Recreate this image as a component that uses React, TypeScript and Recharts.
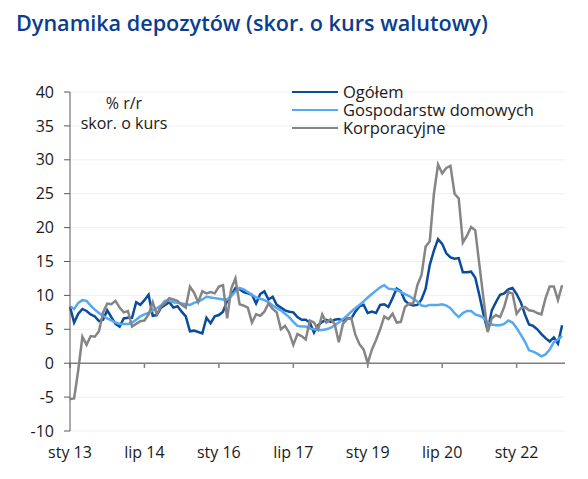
import { LineChart, Line, XAxis, YAxis, CartesianGrid, ReferenceLine, Legend } from 'recharts';

const monthNames = ['sty', 'lut', 'mar', 'kwi', 'maj', 'cze', 'lip', 'sie', 'wrz', 'paź', 'lis', 'gru'];
const years = ['13', '14', '15', '16', '17', '18', '19', '20', '21', '22'];
const months = years.flatMap((y) => monthNames.map((m) => `${m} ${y}`));

const xTicks = [0, 18, 36, 54, 72, 90, 108];
const yTicks = [-10, -5, 0, 5, 10, 15, 20, 25, 30, 35, 40];
const legendOrder = ['Ogółem', 'Gospodarstw domowych', 'Korporacyjne'];

// % r/r, skor. o kurs walutowy, sty 13 - gru 22
const ogolem = [
  8.3, 6.0, 7.3, 8.0, 7.7, 7.2, 6.9, 6.2, 6.4, 7.8, 6.8, 5.8,
  5.4, 6.6, 6.7, 6.7, 9.0, 8.6, 9.3, 10.1, 7.0, 7.1, 8.2, 8.6,
  9.0, 8.2, 8.4, 7.6, 6.9, 4.7, 4.8, 4.6, 4.4, 6.7, 5.9, 6.9,
  7.1, 7.6, 9.2, 10.0, 11.1, 10.9, 10.5, 10.3, 10.1, 8.8, 10.2, 10.6,
  9.4, 9.8, 8.6, 8.2, 7.8, 7.6, 7.5, 6.8, 6.4, 6.4, 6.0, 4.5,
  5.6, 6.1, 6.4, 6.1, 6.4, 6.5, 6.3, 6.6, 6.6, 7.6, 8.4, 8.6,
  7.4, 7.6, 7.4, 8.6, 8.7, 8.3, 9.6, 11.0, 10.6, 9.2, 8.7, 8.5,
  8.6, 9.4, 11.0, 14.5, 16.6, 18.3, 17.6, 16.2, 15.6, 15.4, 15.5, 13.4,
  13.4, 13.5, 12.6, 10.0, 7.2, 4.8, 7.8, 9.0, 10.1, 10.3, 10.9, 11.1,
  10.2, 9.0, 7.2, 5.7, 5.5, 5.0, 4.3, 3.7, 3.2, 3.8, 2.9, 5.6,
];

const gospodarstwa = [
  8.4, 8.0, 8.9, 9.3, 9.2, 8.5, 7.9, 7.4, 7.0, 6.6, 6.3, 6.0,
  5.8, 5.8, 5.8, 6.0, 6.4, 6.9, 7.2, 7.4, 7.8, 8.1, 8.5, 9.2,
  9.2, 9.0, 8.9, 8.8, 8.7, 8.6, 8.9, 9.1, 9.4, 9.8, 9.7, 9.6,
  9.5, 9.4, 9.4, 9.9, 10.6, 11.1, 10.9, 10.5, 10.1, 9.7, 9.5, 9.3,
  9.0, 8.5, 8.1, 7.8, 7.3, 6.8, 6.1, 5.5, 5.4, 5.4, 5.1, 5.0,
  4.9, 4.9, 5.0, 5.2, 5.6, 6.0, 6.5, 7.0, 7.6, 8.1, 8.6, 9.1,
  9.7, 10.2, 10.7, 11.2, 11.5, 11.0, 10.9, 10.8, 10.5, 10.2, 9.9, 9.5,
  9.1, 8.5, 8.4, 8.6, 8.6, 8.6, 8.7, 8.5, 8.1, 7.4, 6.8, 7.4,
  7.7, 7.7, 7.2, 7.0, 6.7, 6.0, 5.7, 5.6, 5.6, 5.8, 6.3, 6.0,
  5.2, 4.2, 3.2, 1.9, 1.7, 1.4, 1.0, 1.3, 2.0, 3.1, 3.5, 4.0,
];

const korporacyjne = [
  -5.3, -5.2, -1.0, 3.9, 2.7, 4.0, 3.9, 4.7, 7.5, 8.8, 8.7, 9.2,
  8.2, 7.5, 7.7, 5.4, 5.8, 6.2, 6.3, 7.2, 9.0, 7.2, 8.4, 8.9,
  9.6, 9.4, 9.2, 8.6, 8.2, 11.3, 10.4, 9.0, 10.6, 10.3, 10.5, 10.3,
  11.3, 11.5, 6.6, 11.0, 12.5, 8.7, 8.5, 8.2, 6.0, 7.2, 7.0, 7.6,
  8.8, 8.0, 7.5, 5.0, 5.5, 4.5, 2.7, 4.3, 4.0, 3.5, 6.3, 6.0,
  5.0, 7.2, 6.0, 6.5, 5.8, 3.1, 5.8, 6.5, 6.7, 4.2, 2.8, 2.0,
  0.0, 2.0, 3.4, 5.0, 6.9, 6.5, 7.3, 6.0, 6.1, 8.3, 8.8, 8.8,
  11.5, 13.0, 17.2, 18.0, 25.0, 29.3, 28.0, 28.8, 29.1, 25.0, 24.3, 17.8,
  18.8, 20.1, 19.6, 14.5, 9.5, 4.6, 6.6, 7.1, 6.8, 8.3, 10.5, 10.3,
  7.3, 8.1, 8.3, 7.8, 7.7, 7.4, 7.2, 9.6, 11.3, 11.3, 9.3, 11.5,
];

const data = months.map((label, i) => ({
  i,
  label,
  ogolem: ogolem[i],
  gospodarstwa: gospodarstwa[i],
  korporacyjne: korporacyjne[i],
}));

const font = '"Open Sans", sans-serif';
const textColor = '#1a1a1a';

function LegendBox({ payload }: any) {
  const items = [...(payload || [])].sort(
    (a: any, b: any) => legendOrder.indexOf(a.value) - legendOrder.indexOf(b.value)
  );
  return (
    <div style={{ fontFamily: font, fontSize: 16.5, color: textColor }}>
      {items.map((p: any) => (
        <div key={p.value} style={{ display: 'flex', alignItems: 'center', height: 18, whiteSpace: 'nowrap' }}>
          <span style={{ display: 'inline-block', width: 46, borderTop: `2.5px solid ${p.color}`, marginRight: 5 }} />
          <span style={{ lineHeight: '18px' }}>{p.value}</span>
        </div>
      ))}
    </div>
  );
}

export default function App() {
  return (
    <div style={{ position: 'relative', width: 588, height: 479, background: '#fff' }}>
      <style>{'body{margin:0}'}</style>
      <div
        style={{
          position: 'absolute', left: 16, top: 10, lineHeight: '26px',
          fontFamily: font, fontSize: 21.6, fontWeight: 600, color: '#0a3d8f', whiteSpace: 'nowrap',
        }}
      >
        Dynamika depozytów (skor. o kurs walutowy)
      </div>
      <div
        style={{
          position: 'absolute', left: 74, top: 93, width: 100, textAlign: 'center',
          fontFamily: font, fontSize: 16, lineHeight: '20px', color: textColor, zIndex: 1,
        }}
      >
        <div>% r/r</div>
        <div>skor. o kurs</div>
      </div>
      <LineChart width={588} height={479} data={data} margin={{ top: 92, right: 23, bottom: 18, left: 0 }}>
        <CartesianGrid horizontal vertical={false} stroke="#efefef" />
        <XAxis
          dataKey="i"
          type="number"
          domain={[0, 119.7]}
          ticks={xTicks}
          interval={0}
          tickFormatter={(v: number) => months[v]}
          axisLine={false}
          tickLine={false}
          tickSize={0}
          tickMargin={16}
          height={30}
          tick={{ fill: textColor, fontSize: 16, fontFamily: font }}
        />
        <YAxis
          domain={[-10, 40]}
          ticks={yTicks}
          interval={0}
          width={70}
          axisLine={{ stroke: '#595959' }}
          tickLine={{ stroke: '#595959' }}
          tickSize={6}
          tickMargin={10}
          tick={{ fill: textColor, fontSize: 16, fontFamily: font }}
        />
        <ReferenceLine y={0} stroke="#808080" strokeWidth={1.5} />
        {xTicks.map((t) => (
          <ReferenceLine key={t} segment={[{ x: t, y: 0 }, { x: t, y: -0.7 }]} stroke="#808080" strokeWidth={1.5} />
        ))}
        <Legend
          layout="vertical"
          align="center"
          verticalAlign="middle"
          content={<LegendBox />}
          wrapperStyle={{ top: 83, left: 292, width: 270 }}
        />
        <Line type="linear" dataKey="ogolem" name="Ogółem" stroke="#0a4b9b" strokeWidth={2.5} dot={false} isAnimationActive={false} />
        <Line type="linear" dataKey="gospodarstwa" name="Gospodarstw domowych" stroke="#55a9f2" strokeWidth={2.5} dot={false} isAnimationActive={false} />
        <Line type="linear" dataKey="korporacyjne" name="Korporacyjne" stroke="#858585" strokeWidth={2.5} dot={false} isAnimationActive={false} />
      </LineChart>
    </div>
  );
}
